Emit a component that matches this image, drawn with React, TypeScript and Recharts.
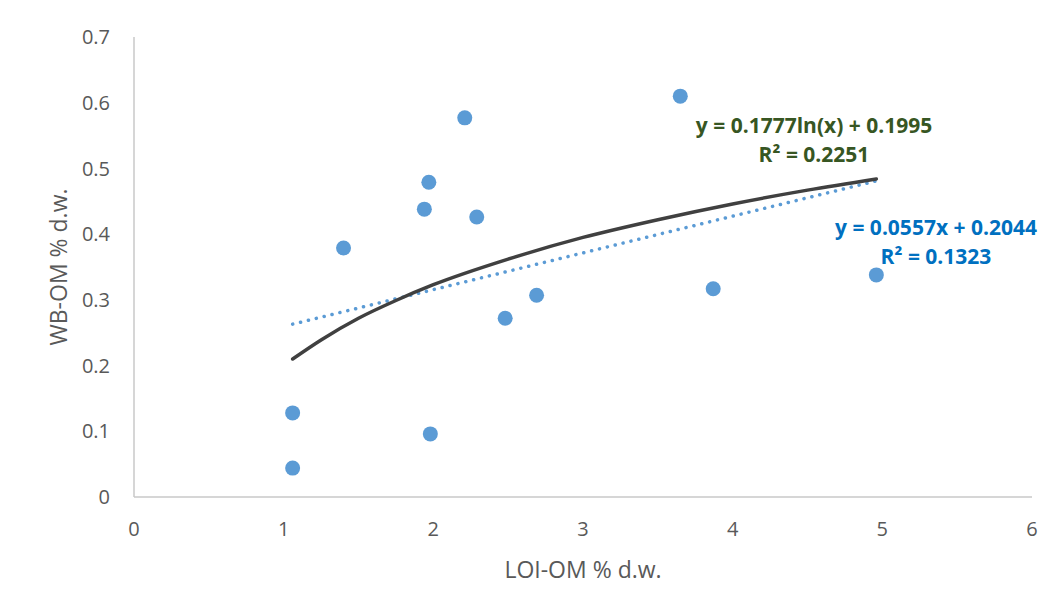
import React from 'react';
import { ComposedChart, Scatter, Line, XAxis, YAxis } from 'recharts';

// measured points (LOI-OM vs WB-OM)
const loiOm = [1.06, 1.06, 1.4, 1.94, 1.97, 1.98, 2.21, 2.29, 2.48, 2.69, 3.65, 3.87, 4.96];
const wbOm = [0.044, 0.128, 0.379, 0.438, 0.479, 0.096, 0.577, 0.426, 0.272, 0.307, 0.61, 0.317, 0.338];

// logarithmic trendline
const logX = [1.06, 1.25, 1.5, 1.75, 2, 2.5, 3, 3.5, 4, 4.5, 4.96];
const logY = [0.21, 0.239, 0.272, 0.299, 0.323, 0.362, 0.395, 0.422, 0.446, 0.467, 0.484];

// linear trendline end points
const linX = [1.06, 4.96];
const linY = [0.263, 0.481];

const xTicks = [0, 1, 2, 3, 4, 5, 6];
const yTicks = [0, 0.1, 0.2, 0.3, 0.4, 0.5, 0.6, 0.7];

const points = loiOm.map((x, i) => ({ x, y: wbOm[i] }));
const logLine = logX.map((x, i) => ({ x, y: logY[i] }));
const linLine = linX.map((x, i) => ({ x, y: linY[i] }));

const FONT = '"Open Sans", sans-serif';
const tickStyle = { fontSize: 20, fill: '#595959', fontFamily: FONT };

export default function App() {
  return (
    <div
      style={{
        position: 'relative',
        width: 1046,
        height: 604,
        marginLeft: -1,
        marginTop: -1,
        borderTop: '1px solid #d9d9d9',
        borderLeft: '1px solid #d9d9d9',
        background: '#fff',
        fontFamily: FONT,
      }}
    >
      <ComposedChart width={1038} height={596} margin={{ top: 29, right: 14, left: 0, bottom: 0 }}>
        <XAxis
          type="number"
          dataKey="x"
          domain={[0, 6]}
          ticks={xTicks}
          tick={tickStyle}
          tickLine={false}
          tickSize={0}
          tickMargin={25}
          height={107}
          stroke="#c8c8c8"
          strokeWidth={1.5}
          allowDuplicatedCategory={false}
        />
        <YAxis
          type="number"
          dataKey="y"
          domain={[0, 0.7]}
          ticks={yTicks}
          tick={tickStyle}
          tickLine={false}
          tickSize={0}
          tickMargin={24}
          width={126}
          stroke="#c8c8c8"
          strokeWidth={1.5}
        />
        <Line
          data={linLine}
          dataKey="y"
          type="linear"
          stroke="#5b9bd5"
          strokeWidth={3.5}
          strokeDasharray="0.1 8"
          strokeLinecap="round"
          dot={false}
          activeDot={false}
          isAnimationActive={false}
        />
        <Line
          data={logLine}
          dataKey="y"
          type="monotone"
          stroke="#404040"
          strokeWidth={3.5}
          strokeLinecap="round"
          dot={false}
          activeDot={false}
          isAnimationActive={false}
        />
        <Scatter
          data={points}
          dataKey="y"
          fill="#5b9bd5"
          shape={(p: any) => <circle cx={p.cx} cy={p.cy} r={7.5} fill="#5b9bd5" />}
          isAnimationActive={false}
        />
      </ComposedChart>

      {/* axis titles */}
      <div
        style={{
          position: 'absolute',
          left: 50,
          top: 259,
          transform: 'translate(-50%, -50%) rotate(-90deg)',
          whiteSpace: 'nowrap',
          fontSize: 23,
          color: '#595959',
        }}
      >
        WB-OM % d.w.
      </div>
      <div
        style={{
          position: 'absolute',
          left: 575,
          top: 561,
          transform: 'translate(-50%, -50%)',
          whiteSpace: 'nowrap',
          fontSize: 23,
          color: '#595959',
        }}
      >
        LOI-OM % d.w.
      </div>

      {/* trendline equations */}
      <div
        style={{
          position: 'absolute',
          left: 806,
          top: 132,
          transform: 'translate(-50%, -50%)',
          textAlign: 'center',
          whiteSpace: 'nowrap',
          fontSize: 21,
          fontWeight: 700,
          lineHeight: '29px',
          color: '#375623',
        }}
      >
        <div>y = 0.1777ln(x) + 0.1995</div>
        <div>R² = 0.2251</div>
      </div>
      <div
        style={{
          position: 'absolute',
          left: 928,
          top: 234,
          transform: 'translate(-50%, -50%)',
          textAlign: 'center',
          whiteSpace: 'nowrap',
          fontSize: 21,
          fontWeight: 700,
          lineHeight: '29px',
          color: '#0070c0',
        }}
      >
        <div>y = 0.0557x + 0.2044</div>
        <div>R² = 0.1323</div>
      </div>
    </div>
  );
}
